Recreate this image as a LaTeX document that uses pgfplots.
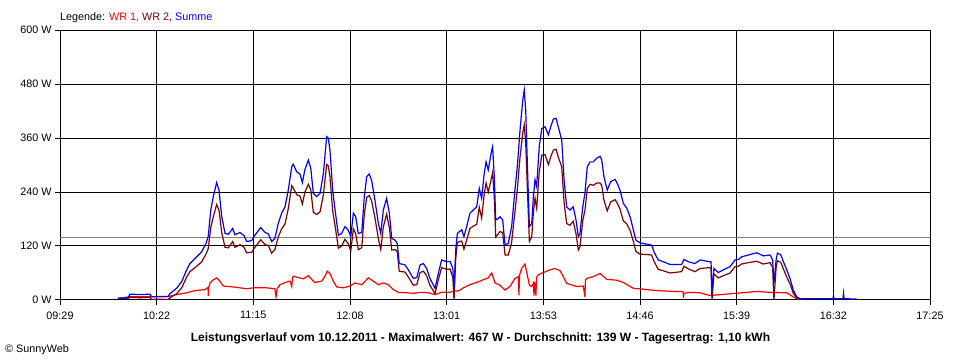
\documentclass[border=0pt]{standalone}
\usepackage{pgfplots}
\pgfplotsset{compat=1.18}
\usepackage{fontspec}
\setmainfont{Liberation Sans}
\definecolor{wrone}{RGB}{255,0,0}
\definecolor{wrtwo}{RGB}{128,0,0}
\definecolor{summe}{RGB}{0,0,255}
\definecolor{avgline}{RGB}{128,128,128}
\begin{document}
\begin{tikzpicture}
\begin{axis}[
  at={(60bp,60bp)}, anchor=south west,
  width=870bp, height=270bp, scale only axis,
  xmin=569, xmax=1045, ymin=0, ymax=600,
  xtick={569,621.889,674.778,727.667,780.556,833.444,886.333,939.222,992.111,1045},
  xticklabels={09:29,10:22,11:15,12:08,13:01,13:53,14:46,15:39,16:32,17:25},
  minor x tick num=1,
  ytick={0,120,240,360,480,600},
  yticklabels={0 W,120 W,240 W,360 W,480 W,600 W},
  tick pos=left, tick align=outside,
  major tick length=5bp, minor tick length=5bp,
  tick style={black, line width=1bp},
  grid=both,
  major grid style={black, line width=1bp},
  minor grid style={black, line width=1bp},
  axis line style={black, line width=1bp},
  tick label style={font=\fontsize{10.8bp}{12bp}\selectfont},
  xticklabel style={yshift=-3bp},
]
\addplot[avgline, line width=1bp] coordinates {(569,139) (1045,139)};
\addplot[wrone, line width=1.2bp] table {
t W
600.7 3
606.4 7
612.8 7
627.4 7
632.8 12
638.3 16
641.9 20
645.6 22
648.3 23
649.6 27
650.0 27
650.1 9
650.3 27
651.1 38
652.9 45
654.7 49
656.5 42
658.3 31
663.8 29
671.1 25
674.8 27
682.1 27
686.6 25
687.2 7
687.8 25
689.4 34
693.0 40
694.8 42
695.8 30
696.2 48
696.6 53
700.3 49
702.1 47
704.9 54
707.6 42
708.5 39
712.2 42
714.0 53
715.2 64
716.7 59
718.5 42
720.4 29
724.0 27
727.7 31
730.4 38
734.1 34
737.7 49
740.4 42
743.2 34
745.9 38
748.6 34
751.4 23
754.1 17
758.7 16
762.3 15
766.9 17
770.5 16
774.2 12
777.8 17
782.4 17
784.4 20
784.6 2
784.8 20
786.9 20
789.7 27
793.3 34
797.0 39
800.6 45
803.3 49
805.2 60
807.0 38
809.7 33
812.5 22
815.2 30
817.9 48
819.8 52
820.1 11
820.4 55
821.6 70
823.4 80
824.3 63
825.8 33
827.1 30
828.1 38
828.3 10
828.6 40
829.4 10
829.7 50
830.7 56
833.4 61
837.1 67
839.8 70
842.6 65
844.4 52
846.2 37
851.7 30
855.3 31
856.2 7
856.5 45
857.2 48
860.8 52
864.5 59
868.1 46
873.6 44
877.2 39
882.7 26
888.1 24
895.5 21
904.6 19
909.9 19
910.1 5
910.4 15
913.7 17
919.2 16
924.6 10
939.2 15
950.2 19
957.5 17
966.6 16
970.2 7
972.9 1
};
\addplot[wrtwo, line width=1.2bp] table {
t W
600.7 4
606.2 3
607.3 6
612.8 5
618.2 6
619.2 1
622.1 2
628.1 1
629.2 5
632.8 14
635.6 27
638.3 51
640.1 63
643.8 75
646.5 85
648.9 102
650.1 114
651.5 161
652.9 185
654.7 212
656.0 200
657.5 149
659.3 117
661.1 116
663.5 130
664.7 117
667.5 123
669.7 117
671.1 105
673.9 106
675.1 114
678.8 134
681.2 123
683.0 121
684.8 104
686.6 112
688.4 140
690.3 158
692.1 169
693.9 203
695.8 254
696.6 249
698.5 234
700.3 231
701.6 213
703.0 240
704.9 257
706.2 245
707.6 195
709.4 190
711.3 196
713.1 234
714.9 301
715.8 298
716.7 274
718.2 198
719.5 165
721.3 115
723.1 120
724.9 135
726.7 125
728.1 109
729.5 158
730.8 147
732.2 112
734.1 116
735.5 190
736.8 228
738.2 232
739.5 220
741.3 183
743.2 136
744.5 112
745.9 162
747.7 191
749.2 161
750.5 111
752.3 112
753.5 108
754.6 64
757.8 62
759.6 51
762.3 33
764.2 34
766.0 61
767.8 64
769.6 54
771.4 33
774.2 14
776.0 45
777.8 72
780.6 68
782.4 69
783.9 51
784.6 4
785.5 91
786.4 128
788.8 131
790.0 113
791.5 133
793.3 159
795.1 164
797.0 168
798.4 206
799.7 182
801.0 232
802.1 260
803.3 240
805.2 273
805.7 283
806.6 229
807.4 140
808.8 147
809.7 152
811.2 150
812.5 100
814.3 100
816.1 128
817.9 196
819.2 245
820.7 318
822.2 371
823.0 389
823.8 348
824.7 249
825.8 130
827.1 140
828.0 195
828.9 226
829.8 204
831.2 284
832.6 322
834.4 323
836.2 301
837.5 318
838.9 333
840.4 335
841.6 318
843.5 296
844.8 217
846.2 170
848.0 166
849.8 175
851.3 148
852.6 111
853.5 118
855.0 176
856.2 199
857.5 248
859.0 257
860.8 255
862.6 260
864.5 260
865.4 255
866.6 222
868.4 198
870.3 218
872.7 223
873.9 215
875.4 202
877.2 176
879.1 169
880.9 155
882.7 130
884.1 108
886.3 102
890.0 101
892.7 100
894.0 86
896.3 68
899.1 65
902.7 60
909.1 63
910.4 75
912.8 69
916.4 63
919.2 70
924.6 72
925.2 72
925.7 0
926.8 58
929.2 49
931.9 54
935.6 60
938.3 74
940.1 75
942.0 80
945.6 83
950.2 86
953.8 80
957.5 83
958.9 72
959.6 0
960.8 72
961.5 87
963.3 84
964.7 70
966.6 51
968.4 36
970.2 15
972.1 4
973.9 2
976.6 0
};
\addplot[summe, line width=1.2bp] table {
t W
600.7 4
606.2 5
607.3 13
612.8 12
618.2 13
619.2 7
622.1 8
628.1 8
629.2 14
632.8 26
635.6 41
638.3 67
640.1 81
643.8 96
646.5 107
648.9 126
650.1 141
651.5 200
652.9 230
654.7 261
656.0 244
657.5 185
659.3 148
661.1 146
663.5 159
664.7 145
667.5 150
669.7 143
671.1 130
673.9 132
675.1 141
678.8 161
681.2 150
683.0 147
684.8 130
686.6 137
688.4 170
690.3 193
692.1 207
693.9 244
695.8 296
696.6 302
698.5 285
700.3 280
701.6 261
703.0 290
704.9 311
706.2 293
707.6 237
709.4 230
711.3 237
713.1 281
714.9 363
715.8 360
716.7 333
718.2 244
719.5 200
721.3 144
723.1 148
724.9 163
726.7 155
728.1 141
729.5 193
730.8 185
732.2 148
734.1 150
735.5 230
736.8 274
738.2 280
739.5 266
741.3 222
743.2 170
744.5 148
745.9 200
747.7 226
749.2 193
750.5 137
752.3 133
753.5 126
754.6 81
757.8 78
759.6 67
762.3 48
764.2 50
766.0 78
767.8 81
769.6 70
771.4 48
774.2 26
776.0 59
777.8 89
780.6 85
782.4 86
783.9 70
784.6 24
785.5 111
786.4 148
788.8 156
790.0 141
791.5 163
793.3 193
795.1 200
797.0 207
798.4 248
799.7 226
801.0 278
802.1 307
803.3 289
805.2 333
805.7 341
806.6 274
807.4 178
808.8 181
809.7 185
811.2 178
812.5 122
814.3 126
816.1 163
817.9 244
819.2 296
820.7 378
822.2 444
823.0 467
823.8 422
824.7 304
825.8 163
827.1 170
828.0 230
828.9 267
829.8 252
831.2 341
832.6 381
834.4 385
836.2 367
837.5 385
838.9 402
840.4 404
841.6 385
843.5 356
844.8 267
846.2 207
848.0 200
849.8 207
851.3 178
852.6 141
853.5 148
855.0 207
856.2 237
857.5 296
859.0 307
860.8 307
862.6 315
864.5 319
865.4 311
866.6 274
868.4 244
870.3 263
872.7 268
873.9 259
875.4 244
877.2 215
879.1 204
880.9 185
882.7 156
884.1 133
886.3 127
890.0 124
892.7 122
894.0 107
896.3 89
899.1 85
902.7 79
909.1 79
910.4 90
912.8 85
916.4 81
919.2 89
924.6 85
925.2 85
925.7 19
926.8 70
929.2 61
931.9 67
935.6 74
938.3 89
940.1 90
942.0 96
945.6 100
950.2 105
953.8 98
957.5 100
958.9 89
959.6 37
960.8 89
961.5 104
963.3 101
964.7 86
966.6 67
968.4 48
970.2 22
972.1 7
973.9 3
991.9 3
992.2 10
992.5 3
997.4 3
997.7 15
998.0 3
1004.9 2
};
\end{axis}
\node[anchor=base west, inner sep=0pt, font=\fontsize{10.8bp}{12bp}\selectfont] at (60bp,339.5bp) {Legende: \textcolor{wrone}{WR 1,} \textcolor{wrtwo}{WR 2,} \textcolor{summe}{Summe}};
\node[anchor=base, inner sep=0pt, font=\bfseries\fontsize{12bp}{14bp}\selectfont] at (480.5bp,19bp) {Leistungsverlauf vom 10.12.2011 - Maximalwert: 467 W - Durchschnitt: 139 W - Tagesertrag: 1,10 kWh};
\node[anchor=base west, inner sep=0pt, font=\fontsize{10.8bp}{12bp}\selectfont] at (5bp,7.7bp) {\textcopyright\ SunnyWeb};
\pgfresetboundingbox
\useasboundingbox (0,0) rectangle (960bp,360bp);
\end{tikzpicture}
\end{document}
